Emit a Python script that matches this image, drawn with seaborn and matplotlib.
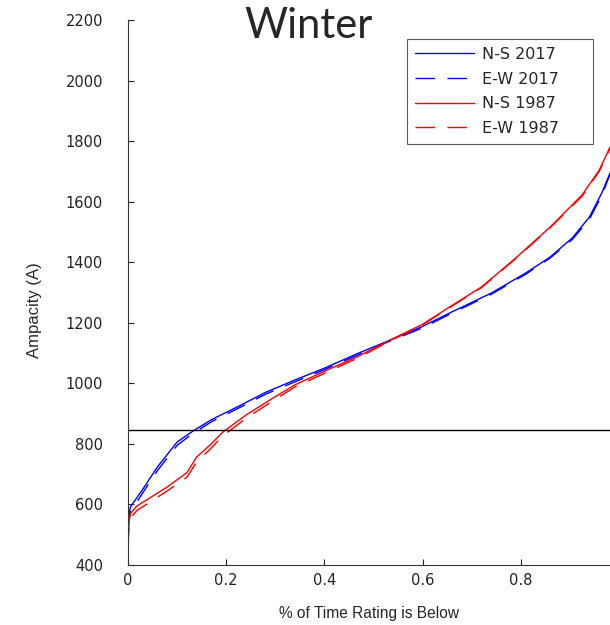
import matplotlib
matplotlib.use("Agg")
import matplotlib.pyplot as plt
import seaborn as sns
import pandas as pd

x_2017 = [0, 0.002, 0.005, 0.015, 0.03, 0.06, 0.1, 0.13, 0.17, 0.23, 0.28, 0.34, 0.40, 0.47,
          0.53, 0.60, 0.66, 0.74, 0.81, 0.86, 0.905, 0.94, 0.965, 0.982]
ns_2017 = [525, 570, 592, 615, 650, 724, 806, 840, 880, 928, 970, 1011, 1050, 1100,
           1140, 1188, 1236, 1298, 1364, 1417, 1480, 1549, 1628, 1694]
ew_2017 = [515, 555, 578, 600, 638, 712, 795, 832, 873, 922, 964, 1005, 1045, 1095,
           1137, 1183, 1232, 1294, 1360, 1414, 1475, 1542, 1620, 1690]

x_1987 = [0, 0.002, 0.005, 0.018, 0.045, 0.08, 0.12, 0.14, 0.167, 0.193, 0.24, 0.295, 0.34,
          0.40, 0.47, 0.53, 0.60, 0.655, 0.72, 0.79, 0.86, 0.925, 0.96, 0.982]
ns_1987 = [466, 540, 570, 595, 622, 658, 705, 757, 796, 839, 895, 951, 995,
           1040, 1090, 1140, 1195, 1252, 1318, 1414, 1516, 1622, 1704, 1780]
ew_1987 = [460, 525, 555, 580, 608, 645, 690, 740, 782, 826, 884, 942, 988,
           1033, 1085, 1137, 1193, 1250, 1316, 1412, 1514, 1618, 1700, 1775]

threshold = 845
x_ticks = [0, 0.2, 0.4, 0.6, 0.8]
x_tick_labels = ["0", "0.2", "0.4", "0.6", "0.8"]
y_ticks = [400, 600, 800, 1000, 1200, 1400, 1600, 1800, 2000, 2200]

sns.set_style("white")
plt.rcParams['font.family'] = ['DejaVu Sans']

fig = plt.figure(figsize=(6.1, 6.25), dpi=100)
ax = fig.add_axes([128 / 610, 60 / 625, 1 - 128 / 610, 545 / 625])

series = [
    ("N-S 2017", x_2017, ns_2017, "#0000ff", None),
    ("E-W 2017", x_2017, ew_2017, "#0000ff", (14, 9)),
    ("N-S 1987", x_1987, ns_1987, "#ff0000", None),
    ("E-W 1987", x_1987, ew_1987, "#ff0000", (14, 9)),
]
for label, xs, ys, color, dash in series:
    df = pd.DataFrame({"x": xs, "y": ys})
    sns.lineplot(data=df, x="x", y="y", ax=ax, color=color, linewidth=1.0,
                 label=label + "     ", sort=False, estimator=None)
    if dash is not None:
        ax.lines[-1].set_dashes(dash)

ax.axhline(threshold, color="black", linewidth=1.0)

ax.set_xlim(0, 0.982)
ax.set_ylim(400, 2200)
ax.set_xticks(x_ticks)
ax.set_xticklabels(x_tick_labels)
ax.set_yticks(y_ticks)
ax.tick_params(direction="in", length=4, width=0.8, labelsize=10.5, colors="#222222",
               bottom=True, left=True)
ax.tick_params(axis="y", pad=18)
ax.tick_params(axis="x", pad=6)
for s in ["top", "right"]:
    ax.spines[s].set_visible(False)
for s in ["left", "bottom"]:
    ax.spines[s].set_color("#333333")
    ax.spines[s].set_linewidth(0.8)

ax.set_xlabel("% of Time Rating is Below", fontsize=11.2, labelpad=13,
              family=["Liberation Sans", "DejaVu Sans"])
ax.set_ylabel("Ampacity (A)", fontsize=12, family=["Liberation Sans", "DejaVu Sans"])
ax.yaxis.set_label_coords(-0.178, 0.468)

leg = ax.legend(loc="upper right", bbox_to_anchor=((593 - 128) / 482, (565 - 39) / 545),
                fancybox=False, frameon=True, edgecolor="#333333", fontsize=11.5,
                handlelength=3.75, borderpad=0.5, labelspacing=0.6, handletextpad=0.5,
                borderaxespad=0)
leg.get_frame().set_linewidth(0.8)

fig.text(309 / 610, 1 - 38 / 625, "Winter", ha="center", va="baseline", fontsize=30,
         family=["Lato", "DejaVu Sans"])

fig.savefig("out.png", dpi=100)
